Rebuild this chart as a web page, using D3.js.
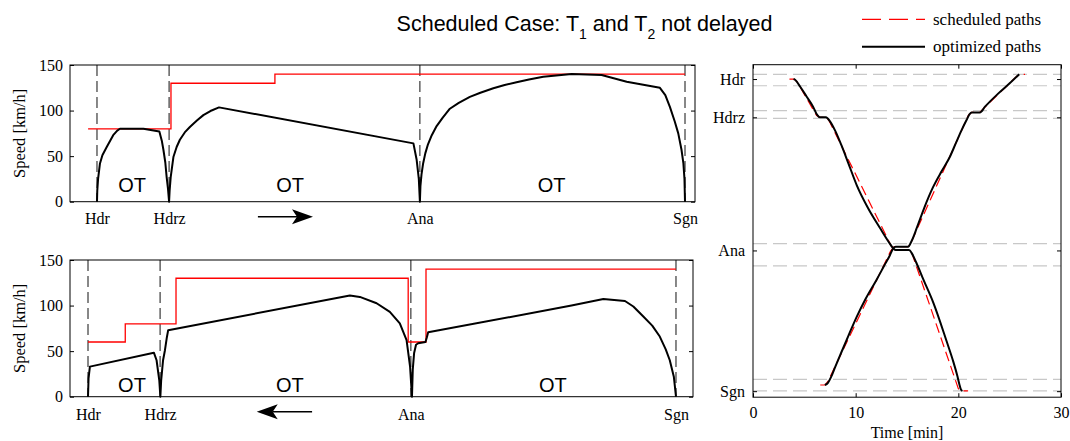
<!DOCTYPE html>
<html><head><meta charset="utf-8">
<script src="https://cdn.jsdelivr.net/npm/d3@7"></script>
<style>
body{margin:0;background:#fff;}
svg{display:block;}
</style></head><body>
<svg id="c" width="1070" height="441"></svg>
<script>
// ---------- data ----------
const stationNames = ["Hdr", "Hdrz", "Ana", "Sgn"];
const stationKm = [1.0, 3.67, 12.96, 22.78];
const sidingKm = [0.67, 1.47, 3.21, 3.74, 12.49, 14.03, 21.96, 22.76];
const speedTicks = [0, 50, 100, 150];
const timeTicks = [0, 10, 20, 30];

// speed limits (step after)
const t1LimitKm = [0.67, 3.74, 7.59, 22.78];
const t1LimitV = [80, 130, 140];
const t2LimitKm = [1.0, 2.38, 4.26, 12.86, 13.52, 22.78];
const t2LimitV = [60, 80, 130, 60, 140];

// optimized speed profiles
const t1SpeedKm = [1.00,1.01,1.04,1.11,1.20,1.36,1.60,1.75,1.85,2.72,3.31,3.40,3.46,3.53,3.58,3.63,3.67,
  3.69,3.73,3.83,3.95,4.07,4.25,4.44,4.70,4.94,5.20,5.52,12.72,12.84,12.92,12.96,
  12.98,13.02,13.08,13.16,13.26,13.40,13.58,13.80,14.07,14.40,14.81,15.20,15.68,16.10,16.54,17.00,17.53,18.58,19.69,20.62,21.85,22.05,22.22,22.40,22.53,22.65,22.72,22.76,22.78];
const t1SpeedV = [0,12,25,42,51,60,73,78,80,80,77,67,57,43,27,14,0,
  12,27,49,60,68,76,82,89,95,99.5,103.5,64,46,25,0,
  17,30,42,53,63,73,83,92,102,108.5,115,119.5,124.5,128,131,134,137,140,139,131.7,125,117,104,88,75,57,42,25,0];

const t2SpeedKm = [1.00,1.02,1.07,3.44,3.54,3.64,3.68,
  3.71,3.78,3.85,3.92,3.97,10.70,11.07,11.69,12.18,12.55,12.80,12.93,13.00,
  13.03,13.08,13.15,13.23,13.50,13.55,13.60,18.91,20.09,20.89,21.20,21.57,21.90,22.18,22.40,22.55,22.70,22.78];
const t2SpeedV = [0,20,33,48.3,40,18,0,
  18,40,51,65,73,111,109.5,102.5,93,80.5,62,33,0,
  30,48,57,58.6,60,65,70.7,100,107.2,105,99,88,78,66,52,40,22,0];

// time-distance paths (t in min, position in km)
const t1SchedT = [3.55,4.0,4.3,6.2,6.5,7.1,7.4,13.5,13.8,15.2,15.5,20.0,20.3,20.95];
const t1SchedKm = [1.0,1.0,1.2,3.55,3.67,3.67,3.9,12.7,12.93,12.93,13.2,22.6,22.76,22.76];
const t2SchedT = [6.55,7.0,7.3,13.4,13.75,15.1,15.4,21.0,21.3,22.1,22.4,25.7,26.0,26.5];
const t2SchedKm = [22.35,22.35,22.1,13.0,12.7,12.7,12.4,3.5,3.33,3.33,3.1,0.8,0.67,0.67];

const t1OptT = [3.95,4.1,4.6,5.2,5.85,6.25,6.5,7.1,7.5,8.0,8.6,9.3,10.1,11.2,12.37,13.2,13.66,13.9,
  15.2,15.5,15.9,16.6,17.56,18.86,19.5,19.9,20.1,20.25,20.4];
const t1OptKm = [1.0,1.05,1.54,2.2,2.93,3.5,3.67,3.67,3.95,4.6,5.6,6.9,8.4,10.0,11.4,12.35,12.81,12.93,
  12.93,13.2,13.8,15.0,16.6,19.3,20.7,21.7,22.3,22.65,22.76];
const t2OptT = [7.0,7.3,7.6,8.0,8.47,9.3,10.1,11.0,12.04,12.8,13.3,13.66,13.9,
  15.1,15.45,16.0,16.7,17.56,18.4,19.18,19.8,20.32,20.8,21.1,21.3,22.1,22.6,23.9,25.0,25.93];
const t2OptKm = [22.35,22.2,21.8,21.1,20.3,18.9,17.6,16.3,15.0,14.0,13.35,12.81,12.7,
  12.7,12.3,11.3,9.95,8.51,7.4,6.42,5.4,4.56,3.86,3.45,3.33,3.33,2.93,2.0,1.3,0.67];

// annotations
const otTopKm = [2.30, 8.15, 17.84];
const otBotKm = [2.63, 8.48, 18.22];
const otTopSpeed = 11, otBotSpeed = 5.5;
const arrowTopKm = [6.96, 9.0];   // from, to
const arrowBotKm = [9.3, 7.25];
const arrowSpeed = -16.5;

// ---------- drawing ----------
const svg = d3.select("#c");
svg.append("rect").attr("width",1070).attr("height",441).attr("fill","#fff");
const SERIF = '"Liberation Serif","Times New Roman",serif';
const SANS = '"Liberation Sans",Arial,sans-serif';

function speedPanel(cfg){
  const g = svg.append("g");
  const x = d3.scaleLinear().domain(cfg.xDomain).range([cfg.x0, cfg.x1]);
  const y = d3.scaleLinear().domain([0,150]).range([cfg.y1, cfg.y0]);

  g.selectAll(".st").data(stationKm).join("line")
    .attr("x1", d=>x(d)).attr("x2", d=>x(d)).attr("y1", cfg.y0).attr("y2", cfg.y1)
    .attr("stroke","#111").attr("stroke-width",1).attr("stroke-dasharray","11,5");

  const lim = cfg.limKm.map((k,i)=>[k, i<cfg.limV.length ? cfg.limV[i] : cfg.limV[cfg.limV.length-1]]);
  g.append("path").datum(lim)
    .attr("d", d3.line().x(d=>x(d[0])).y(d=>y(d[1])).curve(d3.curveStepAfter))
    .attr("fill","none").attr("stroke","#ff0000").attr("stroke-width",1.3);

  const pts = cfg.spKm.map((k,i)=>[k, cfg.spV[i]]);
  g.append("path").datum(pts)
    .attr("d", d3.line().x(d=>x(d[0])).y(d=>y(d[1])))
    .attr("fill","none").attr("stroke","#000").attr("stroke-width",2).attr("stroke-linejoin","round");

  g.append("rect").attr("x",cfg.x0).attr("y",cfg.y0).attr("width",cfg.x1-cfg.x0).attr("height",cfg.y1-cfg.y0)
    .attr("fill","none").attr("stroke","#000").attr("stroke-width",1);

  const ya = g.append("g").attr("transform",`translate(${cfg.x0},0)`)
    .call(d3.axisLeft(y).tickValues(speedTicks).tickSize(-4).tickPadding(7));
  ya.select(".domain").remove();
  ya.selectAll("text").attr("font-family",SERIF).attr("font-size",16).attr("fill","#000");
  const yr = g.append("g").attr("transform",`translate(${cfg.x1},0)`)
    .call(d3.axisRight(y).tickValues(speedTicks).tickSize(-4).tickFormat(""));
  yr.select(".domain").remove();

  const xa = g.append("g").attr("transform",`translate(0,${cfg.y1})`)
    .call(d3.axisBottom(x).tickValues(stationKm).tickSize(0).tickPadding(cfg.labPad).tickFormat((d,i)=>stationNames[i]));
  xa.select(".domain").remove();
  xa.selectAll("text").attr("font-family",SERIF).attr("font-size",16).attr("fill","#000");

  g.append("text").attr("transform",`translate(24.5,${(cfg.y0+cfg.y1)/2}) rotate(-90)`)
    .attr("text-anchor","middle").attr("font-family",SERIF).attr("font-size",16.5).text("Speed [km/h]");

  g.selectAll(".ot").data(cfg.otKm).join("text")
    .attr("x", d=>x(d)).attr("y", y(cfg.otSpeed)).attr("text-anchor","middle")
    .attr("font-family",SANS).attr("font-size",20).text("OT");

  const ax0 = x(cfg.arrow[0]), ax1 = x(cfg.arrow[1]), ay = y(arrowSpeed);
  const dir = Math.sign(ax1-ax0);
  g.append("line").attr("x1",ax0).attr("x2",ax1-dir*16).attr("y1",ay).attr("y2",ay)
    .attr("stroke","#000").attr("stroke-width",1.3);
  g.append("path")
    .attr("d",`M${ax1},${ay} L${ax1-dir*21},${ay-7.5} L${ax1-dir*16},${ay} L${ax1-dir*21},${ay+7.5} Z`)
    .attr("fill","#000");
}

speedPanel({x0:70,x1:695,y0:65,y1:201.7,xDomain:[0,23.15],limKm:t1LimitKm,limV:t1LimitV,
  spKm:t1SpeedKm,spV:t1SpeedV,otKm:otTopKm,otSpeed:otTopSpeed,arrow:arrowTopKm,labPad:11});
speedPanel({x0:70,x1:693,y0:260,y1:396.7,xDomain:[0.333,23.41],limKm:t2LimitKm,limV:t2LimitV,
  spKm:t2SpeedKm,spV:t2SpeedV,otKm:otBotKm,otSpeed:otBotSpeed,arrow:arrowBotKm,labPad:12});

// ---------- time-distance panel ----------
(function(){
  const X0=753, X1=1061, Y0=64.7, Y1=397.2;
  const x = d3.scaleLinear().domain([0,30]).range([X0,X1]);
  const y = d3.scaleLinear().domain([0,23.2]).range([Y0,Y1]);
  const g = svg.append("g");

  g.selectAll(".sd").data(sidingKm).join("line")
    .attr("x1",X0).attr("x2",X1).attr("y1",d=>y(d)).attr("y2",d=>y(d))
    .attr("stroke","#c8c8c8").attr("stroke-width",1.2).attr("stroke-dasharray","14,6");

  const line = d3.line().x(d=>x(d[0])).y(d=>y(d[1])).curve(d3.curveMonotoneX);
  const zip = (a,b)=>a.map((v,i)=>[v,b[i]]);
  const lineP = d3.line().x(d=>x(d[0])).y(d=>y(d[1]));

  [zip(t1SchedT,t1SchedKm), zip(t2SchedT,t2SchedKm)].forEach(p=>{
    g.append("path").datum(p).attr("d",lineP).attr("fill","none")
      .attr("stroke","#ff0000").attr("stroke-width",1.2).attr("stroke-dasharray","10,5");
  });
  [zip(t1OptT,t1OptKm), zip(t2OptT,t2OptKm)].forEach(p=>{
    g.append("path").datum(p).attr("d",line).attr("fill","none")
      .attr("stroke","#000").attr("stroke-width",2).attr("stroke-linejoin","round");
  });

  g.append("rect").attr("x",X0).attr("y",Y0).attr("width",X1-X0).attr("height",Y1-Y0)
    .attr("fill","none").attr("stroke","#000").attr("stroke-width",1);

  const xa = g.append("g").attr("transform",`translate(0,${Y1})`)
    .call(d3.axisBottom(x).tickValues(timeTicks).tickSize(-4).tickPadding(9.5));
  xa.select(".domain").remove();
  xa.selectAll("text").attr("font-family",SERIF).attr("font-size",16).attr("fill","#000");
  const xt = g.append("g").attr("transform",`translate(0,${Y0})`)
    .call(d3.axisTop(x).tickValues(timeTicks).tickSize(-4).tickFormat(""));
  xt.select(".domain").remove();

  const ya = g.append("g").attr("transform",`translate(${X0},0)`)
    .call(d3.axisLeft(y).tickValues(stationKm).tickSize(-4).tickPadding(8).tickFormat((d,i)=>stationNames[i]));
  ya.select(".domain").remove();
  ya.selectAll("text").attr("font-family",SERIF).attr("font-size",16).attr("fill","#000");
  const yr = g.append("g").attr("transform",`translate(${X1},0)`)
    .call(d3.axisRight(y).tickValues(stationKm).tickSize(-4).tickFormat(""));
  yr.select(".domain").remove();

  g.append("text").attr("x",(X0+X1)/2).attr("y",438).attr("text-anchor","middle")
    .attr("font-family",SERIF).attr("font-size",16).text("Time [min]");
})();

// ---------- title ----------
const title = svg.append("text").attr("x",584.5).attr("y",31).attr("text-anchor","middle")
  .attr("font-family",SANS).attr("font-size",21.5).attr("fill","#000");
title.append("tspan").text("Scheduled Case: T");
title.append("tspan").attr("dy",8).attr("font-size",14).text("1");
title.append("tspan").attr("dy",-8).text(" and T");
title.append("tspan").attr("dy",8).attr("font-size",14).text("2");
title.append("tspan").attr("dy",-8).text(" not delayed");

// ---------- legend ----------
const legend = [
  {label:"scheduled paths", color:"#ff0000", dash:"19,8", w:1.2, y:19.3},
  {label:"optimized paths", color:"#000", dash:null, w:2, y:46.7}
];
const lg = svg.append("g");
legend.forEach(l=>{
  lg.append("line").attr("x1",862).attr("x2",925).attr("y1",l.y).attr("y2",l.y)
    .attr("stroke",l.color).attr("stroke-width",l.w).attr("stroke-dasharray",l.dash);
  lg.append("text").attr("x",933).attr("y",l.y+5.5).attr("font-family",SERIF).attr("font-size",17).text(l.label);
});
</script></body></html>
